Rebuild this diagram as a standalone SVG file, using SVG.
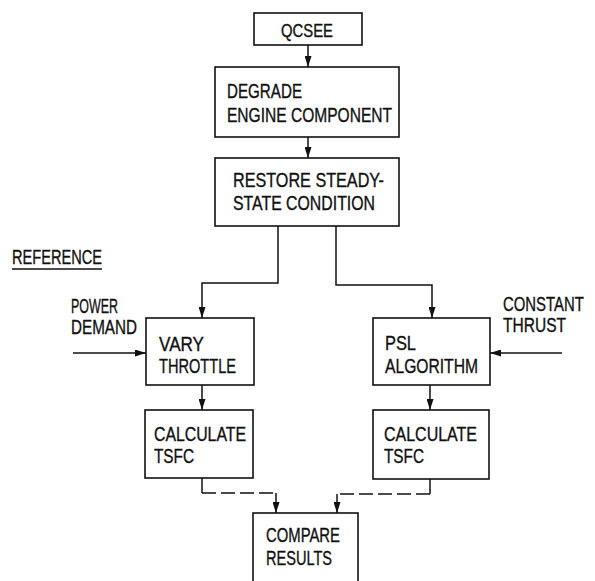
<svg xmlns="http://www.w3.org/2000/svg" width="595" height="581" viewBox="0 0 595 581">
<style>
.box{fill:#fff;stroke:#111;stroke-width:1.6}
.t{font-family:"Liberation Sans",Arial,sans-serif;font-size:20px;fill:#111;stroke:#111;stroke-width:0.35}
.c{fill:none;stroke:#111;stroke-width:1.5}
.d{fill:none;stroke:#111;stroke-width:1.5;stroke-dasharray:14 5}
</style>
<defs>
<marker id="ar" markerUnits="userSpaceOnUse" markerWidth="11" markerHeight="7" refX="11" refY="3.5" orient="auto" viewBox="0 0 11 7">
<path d="M0,0 L11,3.5 L0,7 z" fill="#111"/>
</marker>
</defs>
<rect width="595" height="581" fill="#fff"/>
<g id="connectors">
<path class="c" d="M308,45 L308,67" marker-end="url(#ar)"/>
<path class="c" d="M308,137 L308,158" marker-end="url(#ar)"/>
<path class="c" d="M278,226 L278,283 L202,283 L202,318" marker-end="url(#ar)"/>
<path class="c" d="M336,226 L336,285 L432,285 L432,318" marker-end="url(#ar)"/>
<path class="c" d="M73,353 L146,353" marker-end="url(#ar)"/>
<path class="c" d="M562,353 L490,353" marker-end="url(#ar)"/>
<path class="c" d="M202,385 L202,410" marker-end="url(#ar)"/>
<path class="c" d="M430,385 L430,410" marker-end="url(#ar)"/>
<path class="c" d="M202,478 L202,493"/>
<path class="d" d="M202,493 L276,493"/>
<path class="c" d="M276,493 L276,513" marker-end="url(#ar)"/>
<path class="c" d="M430,479 L430,494"/>
<path class="d" d="M430,494 L337,494"/>
<path class="c" d="M337,494 L337,513" marker-end="url(#ar)"/>
</g>
<g id="qcsee">
<rect class="box" x="254" y="13" width="108" height="32"/>
<text class="t" x="281" y="37" textLength="52" lengthAdjust="spacingAndGlyphs" style="font-size:17.5px">QCSEE</text>
</g>
<g id="degrade">
<rect class="box" x="215" y="67" width="184" height="70"/>
<text class="t" x="227" y="98" textLength="75" lengthAdjust="spacingAndGlyphs">DEGRADE</text>
<text class="t" x="227" y="122" textLength="165" lengthAdjust="spacingAndGlyphs">ENGINE COMPONENT</text>
</g>
<g id="restore">
<rect class="box" x="215" y="158" width="184" height="68"/>
<text class="t" x="233" y="187" textLength="151" lengthAdjust="spacingAndGlyphs">RESTORE STEADY-</text>
<text class="t" x="233" y="210" textLength="142" lengthAdjust="spacingAndGlyphs">STATE CONDITION</text>
</g>
<g id="reference">
<text class="t" x="12" y="264" textLength="90" lengthAdjust="spacingAndGlyphs">REFERENCE</text>
<line x1="12" y1="269" x2="102" y2="269" stroke="#111" stroke-width="1.3"/>
</g>
<g id="power-demand">
<text class="t" x="71" y="313" textLength="47" lengthAdjust="spacingAndGlyphs">POWER</text>
<text class="t" x="71" y="334" textLength="66" lengthAdjust="spacingAndGlyphs">DEMAND</text>
</g>
<g id="vary-throttle">
<rect class="box" x="146" y="318" width="108" height="67"/>
<text class="t" x="159" y="351" textLength="45" lengthAdjust="spacingAndGlyphs">VARY</text>
<text class="t" x="159" y="373" textLength="77" lengthAdjust="spacingAndGlyphs">THROTTLE</text>
</g>
<g id="psl-algorithm">
<rect class="box" x="373" y="318" width="117" height="67"/>
<text class="t" x="385" y="350" textLength="31" lengthAdjust="spacingAndGlyphs">PSL</text>
<text class="t" x="385" y="373" textLength="93" lengthAdjust="spacingAndGlyphs">ALGORITHM</text>
</g>
<g id="constant-thrust">
<text class="t" transform="translate(503,311) scale(0.745,1)" x="0" y="0">CONSTANT</text>
<text class="t" x="503" y="332" textLength="63" lengthAdjust="spacingAndGlyphs">THRUST</text>
</g>
<g id="calc-left">
<rect class="box" x="145" y="410" width="108" height="68"/>
<text class="t" x="154" y="441" textLength="92" lengthAdjust="spacingAndGlyphs">CALCULATE</text>
<text class="t" x="154" y="463" textLength="40" lengthAdjust="spacingAndGlyphs">TSFC</text>
</g>
<g id="calc-right">
<rect class="box" x="373" y="410" width="116" height="69"/>
<text class="t" x="384" y="441" textLength="93" lengthAdjust="spacingAndGlyphs">CALCULATE</text>
<text class="t" x="384" y="463" textLength="40" lengthAdjust="spacingAndGlyphs">TSFC</text>
</g>
<g id="compare">
<rect class="box" x="253" y="513" width="105" height="80"/>
<text class="t" x="266" y="542" textLength="74" lengthAdjust="spacingAndGlyphs">COMPARE</text>
<text class="t" x="266" y="565" textLength="66" lengthAdjust="spacingAndGlyphs">RESULTS</text>
</g>
</svg>
